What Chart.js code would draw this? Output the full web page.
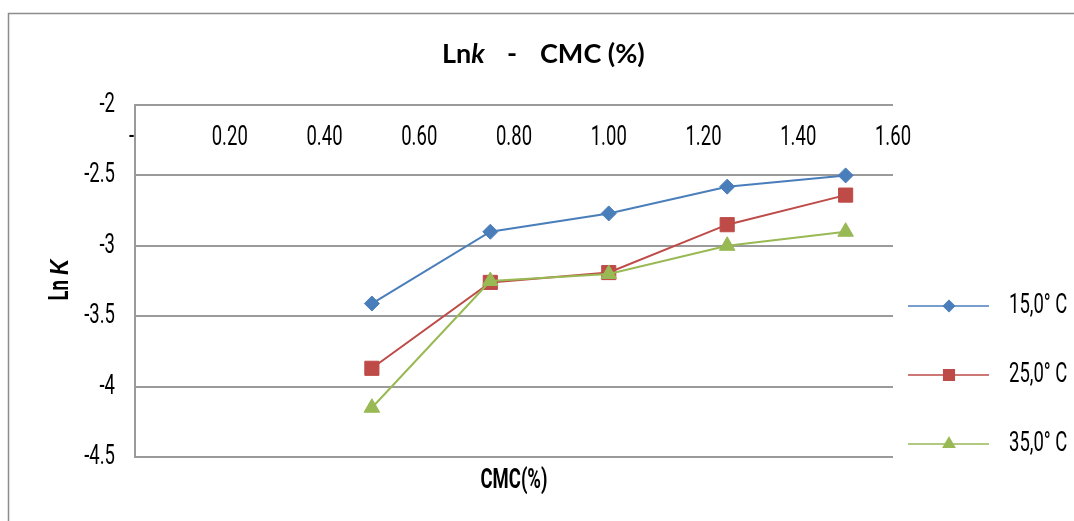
<html>

<head>
    <title>Lnk - CMC (%)</title>
    <script src="https://cdn.jsdelivr.net/npm/chart.js"></script>
    <style>
        body { margin: 0; background: white; }
        canvas { display: block; }
    </style>
</head>

<body>
    <canvas id="lnk_chart" width="1074" height="521"></canvas>

    <script>
        // values
        const cmc_values = [0.50, 0.75, 1.00, 1.25, 1.50];
        const lnk_15 = [-3.41, -2.90, -2.77, -2.58, -2.50];
        const lnk_25 = [-3.87, -3.26, -3.19, -2.85, -2.64];
        const lnk_35 = [-4.15, -3.25, -3.20, -3.00, -2.90];
        const series_labels = ["15,0° C", "25,0° C", "35,0° C"];
        const x_tick_values = [0, 0.2, 0.4, 0.6, 0.8, 1.0, 1.2, 1.4, 1.6];
        const y_tick_values = [-2, -2.5, -3, -3.5, -4, -4.5];

        const grid_gray = "#9a9a9a";
        const tick_size = 28;
        const squeeze = 0.66;
        const narrow = "Roboto, sans-serif";

        function make_points(values) {
            return cmc_values.map((x, i) => ({ x: x, y: values[i] }));
        }

        const ctx = document.getElementById("lnk_chart").getContext("2d");

        // the original labels use a tall condensed face, so any Roboto text is drawn squeezed sideways
        const plain_fill = ctx.fillText;
        ctx.fillText = function (text, x, y, max_width) {
            if (this.font.indexOf("Roboto") === -1) {
                return max_width === undefined ? plain_fill.call(this, text, x, y) : plain_fill.call(this, text, x, y, max_width);
            }
            this.save();
            this.translate(x, y);
            this.scale(squeeze, 1);
            if (max_width === undefined) plain_fill.call(this, text, 0, 0);
            else plain_fill.call(this, text, 0, 0, max_width / squeeze);
            this.restore();
        };

        const extras = {
            id: "extras",
            beforeDraw(chart) {
                const c = chart.ctx;
                c.save();
                c.fillStyle = "white";
                c.fillRect(0, 0, chart.width, chart.height);
                c.restore();
            },
            afterDraw(chart) {
                const c = chart.ctx;
                const area = chart.chartArea;
                c.save();

                // outer frame (only top and left edges are inside the picture)
                c.strokeStyle = "#8c8c8c";
                c.lineWidth = 1.5;
                c.beginPath();
                c.moveTo(8.5, chart.height + 5);
                c.lineTo(8.5, 13.5);
                c.lineTo(chart.width + 5, 13.5);
                c.stroke();

                // title
                c.fillStyle = "#000";
                c.textBaseline = "alphabetic";
                c.textAlign = "left";
                c.font = "bold 27px Lato";
                c.fillText("Ln", 442, 63);
                const ln_w = c.measureText("Ln").width;
                c.font = "italic bold 27px Lato";
                c.fillText("k", 442 + ln_w, 63);
                c.font = "bold 27px Lato";
                c.textAlign = "center";
                c.fillText("-", 512, 63);
                c.textAlign = "left";
                c.fillText("CMC (%)", 540, 63);

                // x axis title
                c.font = "bold " + tick_size + "px " + narrow;
                c.textAlign = "center";
                c.fillText("CMC(%)", (area.left + area.right) / 2, 488);

                // stray dash next to the y axis
                c.font = tick_size + "px " + narrow;
                c.textAlign = "right";
                c.textBaseline = "middle";
                c.fillText("-", 134, 137);

                // y axis title
                c.save();
                c.translate(58, 280);
                c.rotate(-Math.PI / 2);
                c.textBaseline = "alphabetic";
                c.textAlign = "left";
                const ln_font = "bold " + tick_size + "px " + narrow;
                c.font = ln_font;
                const part_w = c.measureText("Ln ").width * squeeze;
                c.font = "italic bold 25px Lato";
                const k_w = c.measureText("K").width;
                const start = -(part_w + k_w) / 2;
                c.font = ln_font;
                c.fillText("Ln ", start, 10);
                c.font = "italic bold 25px Lato";
                c.fillText("K", start + part_w, 10);
                c.restore();

                // legend
                const legend_sizes = [5.5, 7.5, 6.5];
                chart.data.datasets.forEach((ds, i) => {
                    const y = 306 + i * 69;
                    c.strokeStyle = ds.borderColor;
                    c.lineWidth = 1.5;
                    c.beginPath();
                    c.moveTo(908, y);
                    c.lineTo(989, y);
                    c.stroke();
                    c.fillStyle = ds.backgroundColor;
                    c.strokeStyle = ds.borderColor;
                    Chart.helpers.drawPoint(c, {
                        pointStyle: ds.pointStyle,
                        radius: legend_sizes[i],
                        rotation: 0,
                        borderWidth: 1
                    }, 949, y);
                    c.fillStyle = "#000";
                    c.font = tick_size + "px " + narrow;
                    c.textAlign = "left";
                    c.textBaseline = "middle";
                    c.fillText(ds.label, 1009, y);
                });

                c.restore();
            }
        };

        const lnk_chart = new Chart(ctx, {
            type: "line",
            data: {
                datasets: [
                    {
                        label: series_labels[0],
                        data: make_points(lnk_15),
                        borderColor: "#4a7ebb",
                        backgroundColor: "#4a7ebb",
                        pointBorderColor: "#4a7ebb",
                        pointBackgroundColor: "#4a7ebb",
                        pointStyle: "rectRot",
                        pointRadius: 7.5,
                        order: 3
                    },
                    {
                        label: series_labels[1],
                        data: make_points(lnk_25),
                        borderColor: "#be4b48",
                        backgroundColor: "#be4b48",
                        pointBorderColor: "#be4b48",
                        pointBackgroundColor: "#be4b48",
                        pointStyle: "rect",
                        pointRadius: 10,
                        order: 2
                    },
                    {
                        label: series_labels[2],
                        data: make_points(lnk_35),
                        borderColor: "#98b954",
                        backgroundColor: "#98b954",
                        pointBorderColor: "#98b954",
                        pointBackgroundColor: "#98b954",
                        pointStyle: "triangle",
                        pointRadius: 9,
                        order: 1
                    }
                ]
            },
            options: {
                responsive: false,
                animation: false,
                devicePixelRatio: 1,
                layout: { padding: { top: 105, right: 181, bottom: 64, left: 0 } },
                elements: {
                    line: { borderWidth: 2, tension: 0, fill: false },
                    point: { borderWidth: 1, hoverRadius: 8 }
                },
                plugins: {
                    legend: { display: false },
                    title: { display: false },
                    tooltip: { enabled: false }
                },
                scales: {
                    x: {
                        type: "linear",
                        position: { y: -2 },
                        min: 0,
                        max: 1.6,
                        afterBuildTicks: scale => {
                            scale.ticks = x_tick_values.map(v => ({ value: v }));
                        },
                        grid: { display: false },
                        border: { display: false },
                        ticks: {
                            color: "#000",
                            font: { family: narrow, size: tick_size },
                            padding: 32 - 0.85 * tick_size,
                            autoSkip: false,
                            maxRotation: 0,
                            callback: value => value === 0 ? "" : value.toFixed(2)
                        }
                    },
                    y: {
                        type: "linear",
                        position: "left",
                        min: -4.5,
                        max: -2,
                        afterBuildTicks: scale => {
                            scale.ticks = y_tick_values.map(v => ({ value: v }));
                        },
                        afterFit: scale => { scale.width = 135; },
                        grid: { color: grid_gray, lineWidth: 2, drawTicks: false },
                        border: { color: grid_gray, width: 2 },
                        ticks: {
                            color: "#000",
                            font: { family: narrow, size: tick_size },
                            padding: 20,
                            callback: value => String(value)
                        }
                    }
                }
            },
            plugins: [extras]
        });
    </script>

</body>
</html>
